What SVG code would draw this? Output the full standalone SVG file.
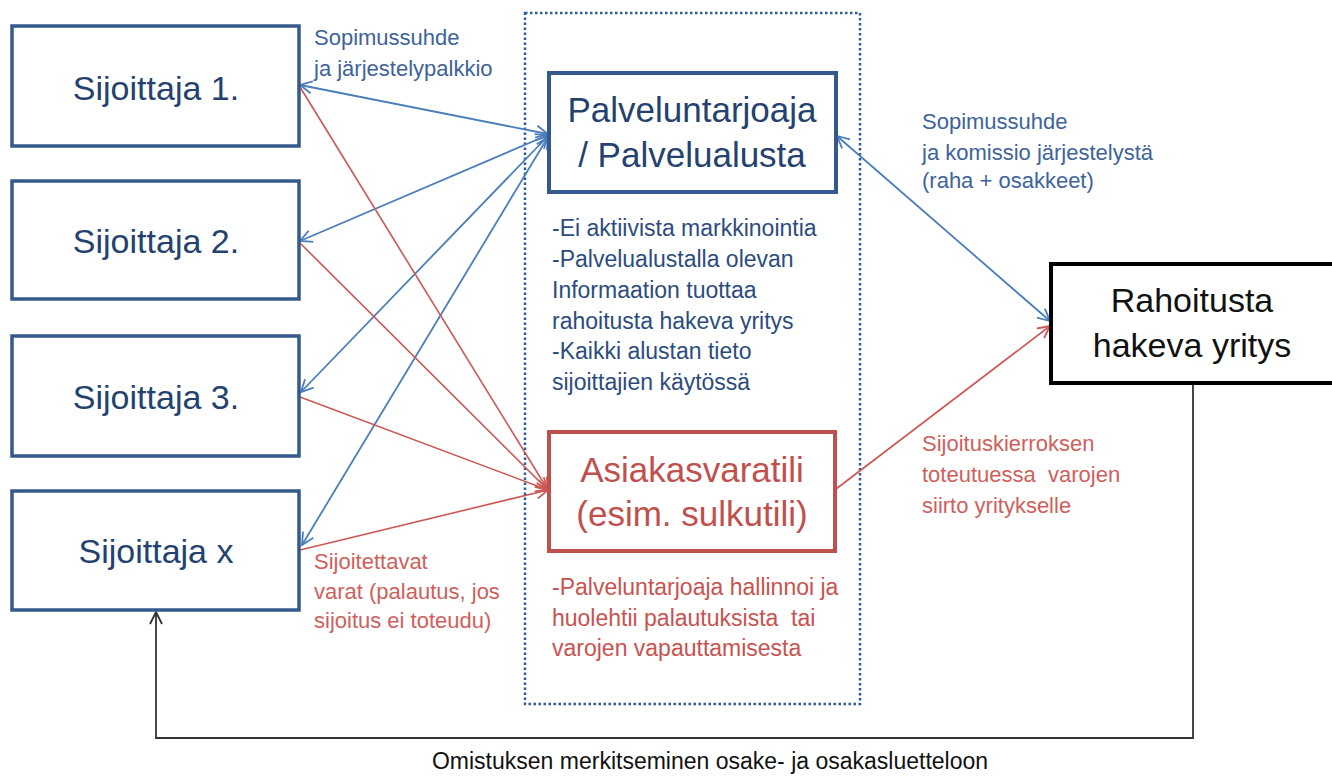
<svg xmlns="http://www.w3.org/2000/svg" width="1332" height="776" viewBox="0 0 1332 776">
<style>
text{font-family:"Liberation Sans",Arial,sans-serif}
.inv{fill:#fff;stroke:#35598C;stroke-width:3.5}
.invt{font-size:34px;fill:#24426F;text-anchor:middle}
.big{font-size:35px;text-anchor:middle}
.bl{font-size:23px;fill:#2C4C7E}
.rd{font-size:23px;fill:#C9524F}
.lb{font-size:22px;fill:#40639A}
.lr{font-size:22px;fill:#D05F5C}
.cb{stroke:#4A7EBB;stroke-width:1.8;fill:none;marker-start:url(#ab);marker-end:url(#ab)}
.cr{stroke:#CC5754;stroke-width:1.6;fill:none;marker-end:url(#ar)}
</style>
<defs>
<marker id="ab" viewBox="0 0 14 14" refX="13" refY="7" markerWidth="14" markerHeight="14" markerUnits="userSpaceOnUse" orient="auto-start-reverse"><path d="M1,1 L13,7 L1,13" fill="none" stroke="#4A7EBB" stroke-width="1.8"/></marker>
<marker id="ar" viewBox="0 0 14 14" refX="13" refY="7" markerWidth="14" markerHeight="14" markerUnits="userSpaceOnUse" orient="auto"><path d="M1,1 L13,7 L1,13" fill="none" stroke="#CC5754" stroke-width="1.8"/></marker>
<marker id="ak" viewBox="0 0 14 14" refX="13" refY="7" markerWidth="14" markerHeight="14" markerUnits="userSpaceOnUse" orient="auto"><path d="M1,1 L13,7 L1,13" fill="none" stroke="#333" stroke-width="1.8"/></marker>
</defs>
<rect width="1332" height="776" fill="#fff"/>
<g id="platform-container">
<rect x="525" y="13" width="335" height="691" fill="none" stroke="#2E5C9A" stroke-width="2.5" stroke-dasharray="2.5 2.5"/>
</g>
<g id="connectors">
<line class="cb" x1="300" y1="85" x2="548" y2="134"/>
<line class="cb" x1="300" y1="241" x2="548" y2="135"/>
<line class="cb" x1="301" y1="392" x2="548" y2="136"/>
<line class="cb" x1="302" y1="545" x2="548" y2="137"/>
<line class="cb" x1="837" y1="136" x2="1050" y2="321"/>
<line class="cr" x1="300" y1="87" x2="548" y2="490"/>
<line class="cr" x1="300" y1="243" x2="548" y2="490"/>
<line class="cr" x1="300" y1="397" x2="548" y2="490"/>
<line class="cr" x1="300" y1="550" x2="548" y2="490"/>
<line class="cr" x1="836" y1="489" x2="1050" y2="326"/>
<path d="M1193,384 V738 H156 V612" fill="none" stroke="#333" stroke-width="1.8" marker-end="url(#ak)"/>
</g>
<g id="sijoittaja-1">
<rect class="inv" x="12" y="26" width="287" height="120"/>
<text class="invt" x="156" y="100">Sijoittaja 1.</text>
</g>
<g id="sijoittaja-2">
<rect class="inv" x="12" y="181" width="287" height="118"/>
<text class="invt" x="156" y="253">Sijoittaja 2.</text>
</g>
<g id="sijoittaja-3">
<rect class="inv" x="12" y="336" width="287" height="120"/>
<text class="invt" x="156" y="409">Sijoittaja 3.</text>
</g>
<g id="sijoittaja-x">
<rect class="inv" x="12" y="491" width="287" height="119"/>
<text class="invt" x="156" y="563">Sijoittaja x</text>
</g>
<g id="palveluntarjoaja">
<rect x="549" y="73" width="287" height="119" fill="#fff" stroke="#35598C" stroke-width="4"/>
<text class="big" x="692" y="122" fill="#24426F">Palveluntarjoaja</text>
<text class="big" x="692" y="167" fill="#24426F">/ Palvelualusta</text>
</g>
<g id="palveluntarjoaja-notes">
<text class="bl" x="552" y="236">-Ei aktiivista markkinointia</text>
<text class="bl" x="552" y="267">-Palvelualustalla olevan</text>
<text class="bl" x="552" y="298">Informaation tuottaa</text>
<text class="bl" x="552" y="329">rahoitusta hakeva yritys</text>
<text class="bl" x="552" y="359">-Kaikki alustan tieto</text>
<text class="bl" x="552" y="390">sijoittajien käytössä</text>
</g>
<g id="asiakasvaratili">
<rect x="549" y="432" width="286" height="119" fill="#fff" stroke="#C0504D" stroke-width="4"/>
<text class="big" x="692" y="482" fill="#C0504D">Asiakasvaratili</text>
<text class="big" x="692" y="526" fill="#C0504D">(esim. sulkutili)</text>
</g>
<g id="asiakasvaratili-notes">
<text class="rd" x="552" y="595">-Palveluntarjoaja hallinnoi ja</text>
<text class="rd" x="552" y="626" xml:space="preserve">huolehtii palautuksista  tai</text>
<text class="rd" x="552" y="656">varojen vapauttamisesta</text>
</g>
<g id="rahoitusta-hakeva-yritys">
<rect x="1051" y="264" width="300" height="119" fill="#fff" stroke="#000" stroke-width="4"/>
<text x="1192" y="312" font-size="34" text-anchor="middle" fill="#111">Rahoitusta</text>
<text x="1192" y="357" font-size="34" text-anchor="middle" fill="#111">hakeva yritys</text>
</g>
<g id="labels">
<text class="lb" x="314" y="45">Sopimussuhde</text>
<text class="lb" x="314" y="76">ja järjestelypalkkio</text>
<text class="lb" x="922" y="129">Sopimussuhde</text>
<text class="lb" x="922" y="160">ja komissio järjestelystä</text>
<text class="lb" x="922" y="188">(raha + osakkeet)</text>
<text class="lr" x="922" y="451">Sijoituskierroksen</text>
<text class="lr" x="922" y="482" xml:space="preserve">toteutuessa  varojen</text>
<text class="lr" x="922" y="513">siirto yritykselle</text>
<text class="lr" x="314" y="569">Sijoitettavat</text>
<text class="lr" x="314" y="599">varat (palautus, jos</text>
<text class="lr" x="314" y="628">sijoitus ei toteudu)</text>
<text x="710" y="769" font-size="23" text-anchor="middle" fill="#111">Omistuksen merkitseminen osake- ja osakasluetteloon</text>
</g>
</svg>
